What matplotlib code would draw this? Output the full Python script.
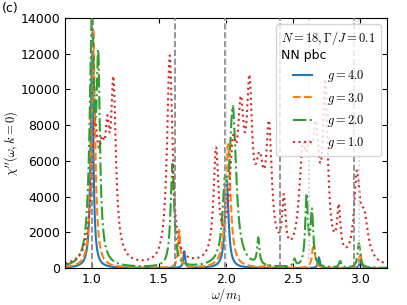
import matplotlib
matplotlib.use("Agg")
import matplotlib.pyplot as plt
import numpy as np

plt.rcParams['font.size'] = 9
plt.rcParams['mathtext.fontset'] = 'cm'

# Lorentzian peak positions (omega/m1) and widths for each coupling
blue_pos = [1.00, 1.688, 2.005, 2.692, 3.003]
blue_w = [0.012, 0.008, 0.016, 0.008, 0.008]
# values (omega/m1, chi'')
blue_x = [0.85, 0.97, 1.00, 1.022, 1.10, 1.688, 1.97, 2.005, 2.03, 2.10, 2.692, 3.003]
blue_y = [80, 1500, 12100, 1950, 150, 950, 700, 4750, 1940, 150, 600, 500]

orange_pos = [1.01, 1.65, 2.015, 2.30, 2.652, 3.00]
orange_w = [0.016, 0.010, 0.022, 0.010, 0.012, 0.010]
orange_x = [0.948, 1.01, 1.06, 1.65, 1.98, 2.015, 2.055, 2.09, 2.30, 2.652, 3.00]
orange_y = [1500, 13400, 1000, 2130, 2500, 6450, 2890, 1000, 280, 1420, 840]

green_pos = [1.00, 1.047, 1.60, 1.99, 2.05, 2.24, 2.51, 2.60, 2.64, 2.85, 2.99]
green_w = [0.020, 0.015, 0.016, 0.020, 0.030, 0.010, 0.010, 0.012, 0.012, 0.010, 0.012]
green_x = [0.948, 1.00, 1.025, 1.047, 1.13, 1.57, 1.60, 1.94, 1.98, 2.05, 2.09, 2.13,
           2.24, 2.51, 2.60, 2.64, 2.85, 2.99]
green_y = [2900, 13500, 10800, 11550, 450, 1950, 5700, 1400, 4000, 8850, 3800, 1380,
           1720, 540, 4180, 3340, 400, 1380]

red_pos = [1.02, 1.075, 1.115, 1.16, 1.58, 1.925, 2.05, 2.11, 2.174, 2.25, 2.32, 2.43,
           2.57, 2.62, 2.67, 2.74, 2.84, 2.975, 3.03]
red_w = [0.030, 0.030, 0.020, 0.022, 0.024, 0.022, 0.030, 0.030, 0.025, 0.040, 0.025,
         0.015, 0.030, 0.030, 0.030, 0.022, 0.015, 0.025, 0.035]
red_x = [0.81, 0.91, 1.02, 1.05, 1.085, 1.11, 1.13, 1.16, 1.21, 1.36, 1.50, 1.545,
         1.58, 1.605, 1.64, 1.73, 1.856, 1.89, 1.925, 1.97, 2.04, 2.07, 2.10, 2.13,
         2.174, 2.216, 2.265, 2.32, 2.40, 2.43, 2.49, 2.565, 2.60, 2.63, 2.66, 2.70,
         2.74, 2.78, 2.81, 2.84, 2.89, 2.94, 2.975, 3.04, 3.10, 3.20]
red_y = [250, 1000, 8000, 7500, 6900, 7800, 8600, 10600, 1400, 350, 650, 3250,
         11650, 7000, 1400, 640, 1400, 3250, 6300, 3250, 6240, 7360, 8200, 9000,
         10500, 6600, 5490, 8200, 3340, 3900, 1380, 6440, 7000, 6900, 6800, 7800,
         9400, 6050, 3440, 3060, 1860, 4000, 4750, 2690, 1000, 450]

labels = ['$g=4.0$', '$g=3.0$', '$g=2.0$', '$g=1.0$']

# mass ratios (dashed) and two-particle thresholds (light dotted)
masses = [1.0, 1.618, 1.989, 2.405, 2.956]
thresholds = [2.0, 2.618, 2.989]


def lorentz(x, pos, w):
    x = np.asarray(x)[:, None]
    pos = np.asarray(pos)[None, :]
    w = np.asarray(w)[None, :]
    return w**2 / ((x - pos)**2 + w**2)


def spectrum(x, pos, w, px, py):
    # non-negative amplitudes fitted to the read values (simple active set)
    A = lorentz(px, pos, w)
    b = np.asarray(py, float)
    active = np.ones(len(pos), bool)
    amp = np.zeros(len(pos))
    for _ in range(len(pos)):
        sol = np.linalg.lstsq(A[:, active], b, rcond=None)[0]
        if (sol >= 0).all():
            break
        idx = np.where(active)[0]
        active[idx[np.argmin(sol)]] = False
    amp[active] = np.clip(sol, 0, None)
    return lorentz(x, pos, w) @ amp


x = np.linspace(0.8, 3.2, 3000)

fig = plt.figure(figsize=(4.07, 3.05), dpi=100)
ax = fig.add_axes([0.160, 0.121, 0.791, 0.820])

ax.plot(x, spectrum(x, blue_pos, blue_w, blue_x, blue_y), color='C0', ls='-', lw=1.5, label=labels[0])
ax.plot(x, spectrum(x, orange_pos, orange_w, orange_x, orange_y), color='C1', ls='--', lw=1.5, label=labels[1])
ax.plot(x, spectrum(x, green_pos, green_w, green_x, green_y), color='C2', ls='-.', lw=1.5, label=labels[2])
ax.plot(x, spectrum(x, red_pos, red_w, red_x, red_y), color='C3', ls=':', lw=1.5, label=labels[3])

for m in masses:
    ax.axvline(m, color='gray', ls='--', lw=1.2, zorder=3)
for t in thresholds:
    ax.axvline(t, color='#c8c8c8', ls=':', lw=1.2, zorder=3)

ax.set_xlim(0.8, 3.2)
ax.set_ylim(0, 14000)
ax.set_xticks([1.0, 1.5, 2.0, 2.5, 3.0])
ax.set_yticks(np.arange(0, 14001, 2000))
ax.tick_params(direction='in', top=True, right=True)

ax.set_xlabel(r'$\omega/m_1$', labelpad=0)
ax.set_ylabel(r"$\chi''(\omega,k=0)$", labelpad=0)

ax.legend(title='$N=18,\\Gamma/J=0.1$\nNN pbc', loc='upper right',
          handlelength=1.5, handletextpad=1.2, fontsize=9, title_fontsize=9)

fig.text(0.005, 0.995, '(c)', ha='left', va='top', fontsize=9)

fig.savefig('out.png', dpi=100)
